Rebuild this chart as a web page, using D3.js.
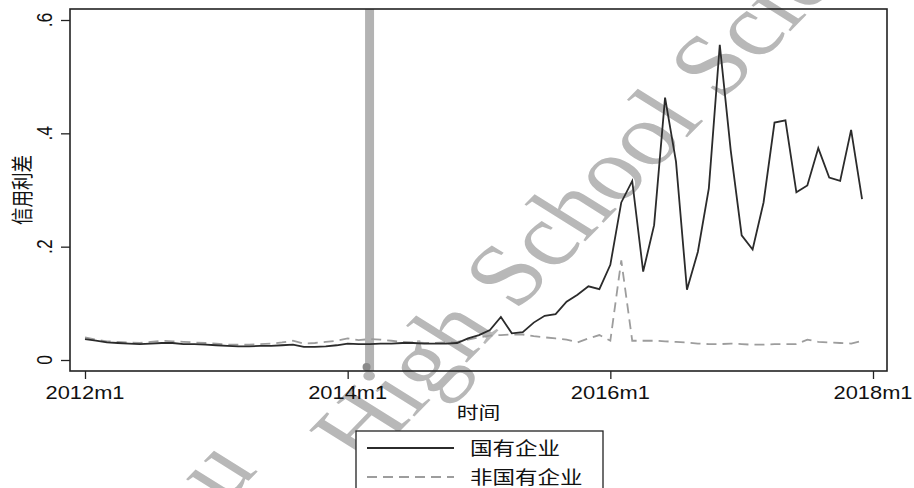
<!DOCTYPE html>
<html>
<head>
<meta charset="utf-8">
<script src="https://cdn.jsdelivr.net/npm/d3@7"></script>
<style>
  body { margin: 0; background: #fff; }
  text { font-family: "Liberation Sans", "Noto Sans CJK SC", sans-serif; }
</style>
</head>
<body>
<div id="chart"></div>
<script>
// monthly values, 2012m1 .. 2017m12
const startYear = 2012;
const soe = [
  0.037, 0.034, 0.031, 0.030, 0.029, 0.028, 0.029, 0.030, 0.030, 0.028, 0.028, 0.027,
  0.026, 0.025, 0.024, 0.024, 0.025, 0.025, 0.026, 0.027, 0.023, 0.023, 0.024, 0.026,
  0.029, 0.028, 0.028, 0.029, 0.029, 0.030, 0.030, 0.029, 0.029, 0.029, 0.030, 0.038,
  0.044, 0.053, 0.076, 0.047, 0.049, 0.066, 0.078, 0.081, 0.103, 0.115, 0.130, 0.125,
  0.168, 0.278, 0.316, 0.156, 0.238, 0.463, 0.350, 0.124, 0.191, 0.303, 0.556, 0.370,
  0.220, 0.195, 0.278, 0.419, 0.423, 0.296, 0.308, 0.374, 0.322, 0.316, 0.406, 0.284
];
const nonSoe = [
  0.040, 0.036, 0.033, 0.032, 0.031, 0.030, 0.032, 0.034, 0.033, 0.032, 0.031, 0.030,
  0.029, 0.027, 0.027, 0.027, 0.028, 0.029, 0.031, 0.034, 0.029, 0.030, 0.032, 0.034,
  0.038, 0.035, 0.037, 0.036, 0.034, 0.032, 0.031, 0.030, 0.030, 0.031, 0.032, 0.036,
  0.040, 0.043, 0.044, 0.045, 0.045, 0.042, 0.040, 0.038, 0.036, 0.031, 0.038, 0.044,
  0.034, 0.176, 0.034, 0.034, 0.034, 0.033, 0.032, 0.031, 0.029, 0.028, 0.028, 0.029,
  0.028, 0.027, 0.027, 0.028, 0.028, 0.028, 0.036, 0.032, 0.031, 0.030, 0.029, 0.034
];
const xTicks = [0, 24, 48, 72];           // month index
const yTicks = [0, 0.2, 0.4, 0.6];
const yTickLabels = ["0", ".2", ".4", ".6"];
const eventMonth = 26;                    // 2014m3
const seriesNames = ["国有企业", "非国有企业"];
const yTitle = "信用利差";
const xTitle = "时间";
const watermarkParts = ["u", "High School Science"];

const width = 914, height = 488;
const frame = {left: 70, right: 887, top: 9, bottom: 371};
const sx = 1.25; // the original picture is stretched horizontally

const xscale = d3.scaleLinear()
  .domain([0, 72])
  .range([85, 873]);

const yscale = d3.scaleLinear()
  .domain([0, 0.6])
  .range([360, 20]);

const svg = d3.select("#chart").append("svg")
  .attr("width", width)
  .attr("height", height);

svg.append("rect").attr("width", width).attr("height", height).attr("fill", "#fff");

// stretched text helper
function label(x, y, str, size, anchor, rotate) {
  const g = svg.append("g")
    .attr("transform", `translate(${x},${y}) scale(${sx},1)` + (rotate ? ` rotate(${rotate})` : ""));
  return g.append("text")
    .attr("font-size", size)
    .attr("text-anchor", anchor)
    .attr("fill", "#111")
    .text(str);
}

// ============================
// watermark
// ============================
[[225, 505], [364, 468]].forEach((p, i) => {
  label(p[0], p[1], watermarkParts[i], 88, "start", -52)
    .style("font-family", "'Liberation Serif', serif")
    .attr("fill", "#b8b8b8");
});

// ============================
// axes
// ============================
const xAxis = g => g
  .attr("transform", `translate(0,${frame.bottom})`)
  .call(d3.axisBottom(xscale).tickValues(xTicks).tickSize(8).tickFormat(""))
  .call(g => g.select(".domain").remove())
  .call(g => g.selectAll(".tick line").attr("stroke", "#222").attr("stroke-width", 1.3));

const yAxis = g => g
  .attr("transform", `translate(${frame.left},0)`)
  .call(d3.axisLeft(yscale).tickValues(yTicks).tickSize(9).tickFormat(""))
  .call(g => g.select(".domain").remove())
  .call(g => g.selectAll(".tick line").attr("stroke", "#222").attr("stroke-width", 1.3));

svg.append("g").call(xAxis);
svg.append("g").call(yAxis);

xTicks.forEach(m => {
  label(xscale(m), 399, `${startYear + m / 12}m1`, 17.5, "middle");
});
yTicks.forEach((v, i) => {
  label(52, yscale(v), yTickLabels[i], 17.5, "middle", -90);
});

label(30, (frame.top + frame.bottom) / 2, yTitle, 17.5, "middle", -90);
label((frame.left + frame.right) / 2, 419, xTitle, 17.5, "middle");

// ============================
// event line
// ============================
svg.append("line")
  .attr("x1", xscale(eventMonth)).attr("x2", xscale(eventMonth))
  .attr("y1", frame.top).attr("y2", frame.bottom)
  .attr("stroke", "#b3b3b3")
  .attr("stroke-width", 9);

svg.append("circle")
  .attr("cx", xscale(eventMonth) - 3)
  .attr("cy", frame.bottom - 4)
  .attr("r", 4)
  .attr("fill", "#8a8a8a");

// ============================
// series
// ============================
const line = d3.line()
  .x((d, i) => xscale(i))
  .y(d => yscale(d));

svg.append("path")
  .datum(nonSoe)
  .attr("d", line)
  .attr("fill", "none")
  .attr("stroke", "#9d9d9d")
  .attr("stroke-width", 1.8)
  .attr("stroke-dasharray", "10,6");

svg.append("path")
  .datum(soe)
  .attr("d", line)
  .attr("fill", "none")
  .attr("stroke", "#2b2b2b")
  .attr("stroke-width", 1.8)
  .attr("stroke-linejoin", "miter");

// plot frame
svg.append("rect")
  .attr("x", frame.left).attr("y", frame.top)
  .attr("width", frame.right - frame.left)
  .attr("height", frame.bottom - frame.top)
  .attr("fill", "none")
  .attr("stroke", "#222")
  .attr("stroke-width", 1.6);

// ============================
// legend
// ============================
svg.append("rect")
  .attr("x", 356).attr("y", 431)
  .attr("width", 247).attr("height", 80)
  .attr("fill", "#fff")
  .attr("stroke", "#222")
  .attr("stroke-width", 1.3);

const legendRows = [
  {name: seriesNames[0], y: 448, stroke: "#2b2b2b", dash: null},
  {name: seriesNames[1], y: 477, stroke: "#9d9d9d", dash: "10,6"}
];
legendRows.forEach(r => {
  svg.append("line")
    .attr("x1", 367).attr("x2", 454)
    .attr("y1", r.y).attr("y2", r.y)
    .attr("stroke", r.stroke)
    .attr("stroke-width", 1.8)
    .attr("stroke-dasharray", r.dash);
  label(470, r.y + 7, r.name, 18, "start");
});
</script>
</body>
</html>
